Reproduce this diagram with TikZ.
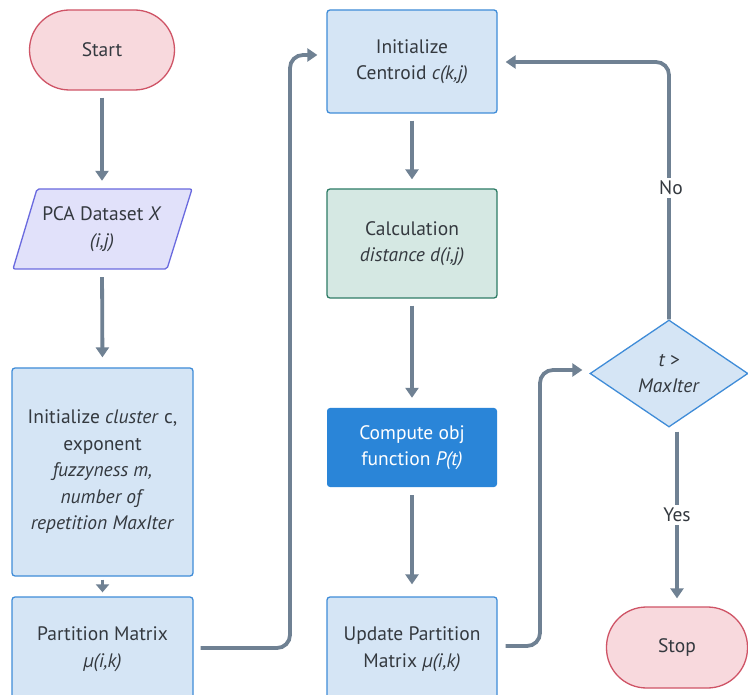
\documentclass[tikz,border=0pt]{standalone}
\usepackage{fontspec}
\setmainfont{PT Sans}
\usetikzlibrary{arrows.meta,shapes.geometric}
\definecolor{txt}{HTML}{34393F}
\definecolor{conn}{HTML}{6F8193}
\definecolor{termfill}{HTML}{F8D9DD}
\definecolor{termdraw}{HTML}{CF5466}
\definecolor{iofill}{HTML}{E1E1FA}
\definecolor{iodraw}{HTML}{6A6ADF}
\definecolor{procfill}{HTML}{D5E5F5}
\definecolor{procdraw}{HTML}{3F8CD8}
\definecolor{calcfill}{HTML}{D5E8E3}
\definecolor{calcdraw}{HTML}{2E7C66}
\definecolor{compfill}{HTML}{2A85D8}
\tikzset{
  every node/.style={font=\fontsize{19.5}{26.5}\selectfont, text=txt, align=center},
  term/.style={rectangle, rounded corners=40pt, draw=termdraw, fill=termfill, line width=1.3pt},
  proc/.style={rectangle, rounded corners=3pt, draw=procdraw, fill=procfill, line width=1.3pt, minimum width=170pt},
  calcbox/.style={rectangle, rounded corners=3pt, draw=calcdraw, fill=calcfill, line width=1.3pt, minimum width=170pt},
  compbox/.style={rectangle, rounded corners=3pt, fill=compfill, text=white, minimum width=170pt},
  decis/.style={diamond, aspect=1.47, draw=procdraw, fill=procfill, line width=1.3pt, inner sep=0pt, minimum width=158pt, minimum height=107pt},
  conn/.style={draw=conn, line width=3.8pt, rounded corners=13pt, -{Triangle[length=10pt,width=13pt]}},
  lbl/.style={fill=white, inner sep=3pt}
}
\begin{document}
\begin{tikzpicture}[x=1pt,y=-1pt]
\clip (0,0) rectangle (748,695);
\fill[white] (0,0) rectangle (748,695);
% left column
\node[term, minimum width=145pt, minimum height=80pt] (start) at (102,50) {Start};
\draw[draw=iodraw, fill=iofill, line width=1.3pt, rounded corners=2pt] (37,189) -- (192,189) -- (167,269) -- (13,269) -- cycle;
\node[minimum height=80pt, minimum width=150pt, inner sep=0pt] (pca) at (102,229) {PCA Dataset \textit{X}\\ \textit{(i,j)}};
\node[proc, minimum width=181pt, minimum height=208pt] (init) at (102.5,472) {Initialize \textit{cluster} c,\\ exponent\\ \textit{fuzzyness m,}\\ \textit{number of}\\ \textit{repetition MaxIter}};
\node[proc, minimum width=181pt, minimum height=104pt] (part) at (102.5,649) {Partition Matrix\\ \textit{μ(i,k)}};
% middle column
\node[proc, minimum height=103pt] (cent) at (412,61.5) {Initialize\\ Centroid \textit{c(k,j)}};
\node[calcbox, minimum height=109pt] (calc) at (412,243.5) {Calculation\\ \textit{distance d(i,j)}};
\node[compbox, minimum height=79pt] (comp) at (412,447.5) {Compute obj\\ function \textit{P(t)}};
\node[proc, minimum height=104pt] (upd) at (412,649) {Update Partition\\ Matrix \textit{μ(i,k)}};
% right column
\node[decis] (dia) at (669,373.5) {\textit{t >}\\ \textit{MaxIter}};
\node[term, minimum width=141pt, minimum height=81pt] (stop) at (677,647.5) {Stop};
% connectors
\draw[conn, shorten <=7pt, shorten >=8pt] (start.south) -- (pca.north);
\draw[conn, shorten <=8pt, shorten >=10pt] (pca.south) -- (init.north);
\draw[conn, -{Triangle[length=8pt,width=13pt]}, shorten <=3pt, shorten >=4pt] (init.south) -- (part.north);
\draw[conn, shorten <=7pt, shorten >=9pt] (part.east |- 0,648) -- (290,648) -- (290,55) -- (cent.west |- 0,55);
\draw[conn, shorten <=7pt, shorten >=9pt] (cent.south) -- (calc.north);
\draw[conn, shorten <=7pt, shorten >=10pt] (calc.south) -- (comp.north);
\draw[conn, shorten <=8pt, shorten >=12pt] (comp.south) -- (upd.north);
\draw[conn, shorten <=8pt, shorten >=7pt] (upd.east |- 0,646) -- (540,646) -- (540,370) -- (dia.west |- 0,370);
\draw[conn, shorten >=8pt] (dia.north) -- (669,62) -- (cent.east |- 0,62);
\node[lbl] (no) at (671,188) {No};
\draw[conn, shorten <=4pt, shorten >=8pt] (dia.south -| stop.north) -- (stop.north);
\node[lbl] (yes) at (677,515) {Yes};
\end{tikzpicture}
\end{document}
